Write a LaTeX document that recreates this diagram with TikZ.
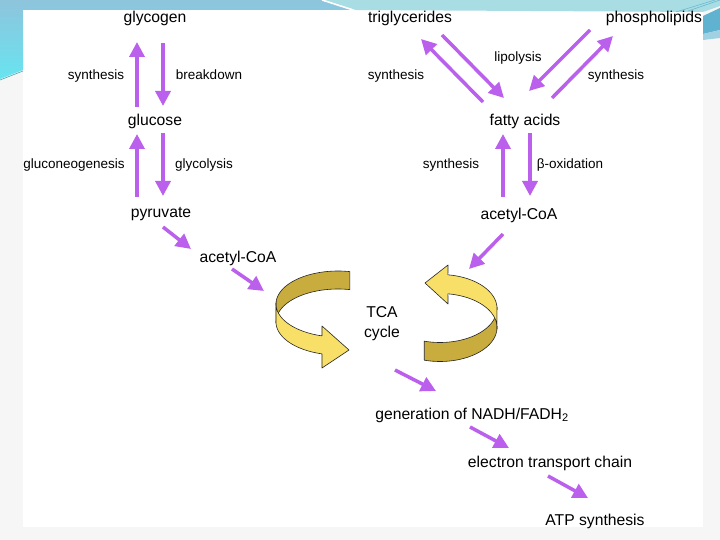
\documentclass[tikz,border=0pt]{standalone}
\usepackage{fontspec}
\setmainfont{Liberation Sans}
\usetikzlibrary{arrows.meta}
\definecolor{arr}{RGB}{187,96,236}
\definecolor{gold}{RGB}{201,172,62}
\definecolor{lgold}{RGB}{248,224,104}
\definecolor{bandblue}{RGB}{142,196,220}
\definecolor{bandcyan}{RGB}{104,228,240}
\definecolor{bandteal}{RGB}{169,221,228}
\definecolor{decoblue}{RGB}{95,179,208}
\definecolor{slidegray}{RGB}{246,246,246}
\begin{document}
\begin{tikzpicture}[x=1pt,y=-1pt,
  big/.style={anchor=base, inner sep=0pt, font=\fontsize{15.7}{18}\selectfont},
  small/.style={anchor=base, inner sep=0pt, font=\fontsize{13.5}{16}\selectfont},
  parr/.style={draw=arr, line width=3.5pt, -{Triangle[length=15pt,width=15pt]}},
  ribbon/.style={draw=black!85, line width=0.6pt, line join=round}]
\useasboundingbox (0,0) rectangle (720,540);
% slide background
\fill[slidegray] (0,0) rectangle (720,540);
\fill[white] (23,10) rectangle (703,527);
\shade[top color=bandblue, bottom color=bandcyan] (0,0) -- (322,0) -- (352,10) -- (23,10) -- (23,70) -- (0,79) -- cycle;
\draw[teal!70, line width=0.6pt] (0,80) -- (23,71);
\fill[bandteal] (324,0) -- (720,0) -- (720,6) -- (703,12) -- (356,10) -- cycle;
\draw[white, line width=1.5pt] (322,0) -- (353,10);
\fill[decoblue] (703,16) -- (720,8) -- (720,30) -- (703,34) -- cycle;
\fill[decoblue!60] (703,34) -- (720,30) -- (720,38) -- (703,40) -- cycle;
\draw[decoblue, line width=0.5pt] (688,11) -- (720,0);
\draw[decoblue, line width=0.5pt] (676,12) -- (715,0);

% labels
\node[big] (glycogen) at (155,23) {glycogen};
\node[big] (trig) at (410,23) {triglycerides};
\node[big] (phos) at (654,23) {phospholipids};
\node[small] (syn1) at (96,80) {synthesis};
\node[small] (brk) at (209,80) {breakdown};
\node[small] (lipo) at (518,62) {lipolysis};
\node[small] (syn2) at (396,80) {synthesis};
\node[small] (syn3) at (616,80) {synthesis};
\node[big] (glucose) at (155,126) {glucose};
\node[big] (fatty) at (525,126) {fatty acids};
\node[small] (glng) at (74,169) {gluconeogenesis};
\node[small] (glys) at (204,169) {glycolysis};
\node[small] (syn4) at (451,169) {synthesis};
\node[small] (box) at (570,169) {β-oxidation};
\node[big] (pyr) at (161,218) {pyruvate};
\node[big] (acoaL) at (238,262) {acetyl-CoA};
\node[big] (acoaR) at (519,219) {acetyl-CoA};
\node[big] (tca) at (382,317) {TCA};
\node[big] (cyc) at (382,337) {cycle};
\node[big] (nadh) at (472,419) {generation of NADH/FADH\textsubscript{2}};
\node[big] (etc) at (550,467) {electron transport chain};
\node[big] (atp) at (595,525) {ATP synthesis};

% arrow end points
\coordinate (a1s) at (137,107); \coordinate (a1e) at (137,42);
\coordinate (a2s) at (163,43);  \coordinate (a2e) at (163,106);
\coordinate (a3s) at (137,197); \coordinate (a3e) at (137,134);
\coordinate (a4s) at (163,133); \coordinate (a4e) at (163,196);
\coordinate (a5s) at (163,227); \coordinate (a5e) at (191,249);
\coordinate (a6s) at (232,269); \coordinate (a6e) at (264,291);
\coordinate (a7s) at (483,102); \coordinate (a7e) at (421,39);
\coordinate (a8s) at (442,35);  \coordinate (a8e) at (504,98);
\coordinate (a9s) at (590,30);  \coordinate (a9e) at (529,91);
\coordinate (a10s) at (552,98); \coordinate (a10e) at (613,36);
\coordinate (a11s) at (503,197); \coordinate (a11e) at (503,134);
\coordinate (a12s) at (530,133); \coordinate (a12e) at (530,196);
\coordinate (a13s) at (503,234); \coordinate (a13e) at (469,269);
\coordinate (a14s) at (395,370); \coordinate (a14e) at (436,391);
\coordinate (a15s) at (470,427); \coordinate (a15e) at (509,448);
\coordinate (a16s) at (548,476); \coordinate (a16e) at (588,498);

\foreach \i in {1,...,16} \draw[parr] (a\i s) -- (a\i e);

% TCA cycle ribbons
% left ribbon: back (dark) part
\filldraw[ribbon, fill=gold]
  plot[domain=-79:-182, samples=40, variable=\t] ({338+62*cos(\t)},{304+33*sin(\t)})
  -- plot[domain=-182:-79, samples=40, variable=\t] ({338+62*cos(\t)},{322+33*sin(\t)})
  -- cycle;
% left ribbon: front (light) part with head
\filldraw[ribbon, fill=lgold]
  plot[domain=-176:-255, samples=40, variable=\t] ({338+62*cos(\t)},{304+33*sin(\t)})
  -- (322,326) -- (349,350) -- (322,368)
  -- plot[domain=-255:-176, samples=40, variable=\t] ({338+62*cos(\t)},{322+33*sin(\t)})
  -- cycle;
% right ribbon: back (dark) part
\filldraw[ribbon, fill=gold]
  plot[domain=-4:106, samples=40, variable=\t] ({440+57*cos(\t)},{308.5+34*sin(\t)})
  -- plot[domain=106:-4, samples=40, variable=\t] ({440+57*cos(\t)},{327.5+34*sin(\t)})
  -- cycle;
% right ribbon: front (light) part with head
\filldraw[ribbon, fill=lgold]
  plot[domain=4:-82, samples=40, variable=\t] ({440+57*cos(\t)},{308.5+34*sin(\t)})
  -- (448,265) -- (425,283) -- (448,304)
  -- plot[domain=-82:4, samples=40, variable=\t] ({440+57*cos(\t)},{327.5+34*sin(\t)})
  -- cycle;
\end{tikzpicture}
\end{document}
